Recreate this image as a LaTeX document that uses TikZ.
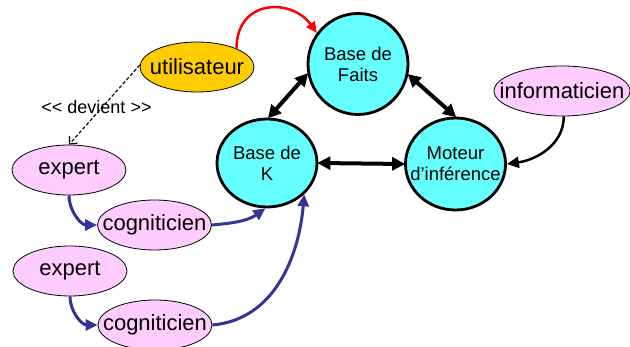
\documentclass[tikz,border=0pt]{standalone}
\usepackage{fontspec}
\setmainfont{Liberation Sans}
\newfontfamily\labelfont{Liberation Sans}
\usetikzlibrary{shapes.geometric,arrows.meta}
\definecolor{baseCyan}{HTML}{66FFFF}
\definecolor{rolePink}{HTML}{FFCCFF}
\definecolor{userGold}{HTML}{FFCC00}
\definecolor{flowBlue}{HTML}{333399}
% zero-width line so the ellipse size is set by minimum width/height only
\newcommand\zw[1]{\makebox[0pt]{#1}}
\tikzset{
  role/.style={ellipse, draw=black, line width=0.8pt, fill=rolePink, inner sep=0pt,
    minimum width=114pt, minimum height=50pt, font=\fontsize{22}{26}\selectfont},
  core/.style={ellipse, draw=black, line width=2.8pt, fill=baseCyan, inner sep=0pt,
    minimum width=100pt, align=center, font=\fontsize{18.5}{21}\selectfont},
  link/.style={line width=4pt, {Triangle[length=13pt,width=13pt]}-{Triangle[length=13pt,width=13pt]}, shorten <=-1pt, shorten >=-1pt},
  feed/.style={flowBlue, line width=3pt, -{Triangle[length=12pt,width=11pt]}},
}
\begin{document}
\begin{tikzpicture}[x=1pt,y=-1pt]
  \useasboundingbox (0,0) rectangle (630,347);

  % knowledge-based system core
  \node[core, minimum height=101pt] (bf) at (358,64) {\zw{Base de}\\\zw{Faits}};
  \node[core, minimum height=88pt]  (bk) at (267,163) {\zw{Base de}\\\zw{K}};
  \node[core, minimum height=92pt]  (mi) at (455.5,164) {\zw{Moteur}\\\zw{d’inférence}};

  % actors
  \node[role, fill=userGold] (u) at (197,67) {\zw{utilisateur}};
  \node[role, minimum width=136pt] (inf) at (562,91) {\zw{informaticien}};
  \node[role] (e1) at (69,170) {\zw{expert}};
  \node[role] (c1) at (154.5,225) {\zw{cogniticien}};
  \node[role] (e2) at (70,271) {\zw{expert}};
  \node[role] (c2) at (155,325) {\zw{cogniticien}};

  % exchanges between the core components
  \draw[link] (bk.88) -- (bf.191);
  \draw[link] (bf.-12) -- (mi.north);
  \draw[link] (bk.east) -- (mi.west);

  % the user queries the facts base
  \draw[red, line width=2.5pt, -{Triangle[length=11pt,width=10pt]}]
    (u.25) .. controls +(0,-50) and +(-25,-35) .. (bf.143);

  % the user becomes an expert
  \draw[dash pattern=on 3.5pt off 2pt, line width=1.1pt, -{Straight Barb[length=6pt,width=11pt]}]
    (u.178) -- (e1.north);
  \node[font=\labelfont\fontsize{18}{21}\selectfont, inner sep=0pt] (dv) at (96.5,107) {<< devient >>};

  % the computer scientist builds the engine
  \draw[line width=2.5pt, -{Triangle[length=12pt,width=11pt]}]
    (inf.-86) to[out=-90,in=8] (mi.east);

  % knowledge acquisition chains
  \draw[feed] (e1.south) to[out=-90,in=180] (c1.west);
  \draw[feed] (c1.east) to[out=5,in=215] (bk.-92);
  \draw[feed] (e2.south) to[out=-90,in=180] (c2.west);
  \draw[feed] (c2.east) to[out=5,in=-95] (bk.-40);
\end{tikzpicture}
\end{document}
